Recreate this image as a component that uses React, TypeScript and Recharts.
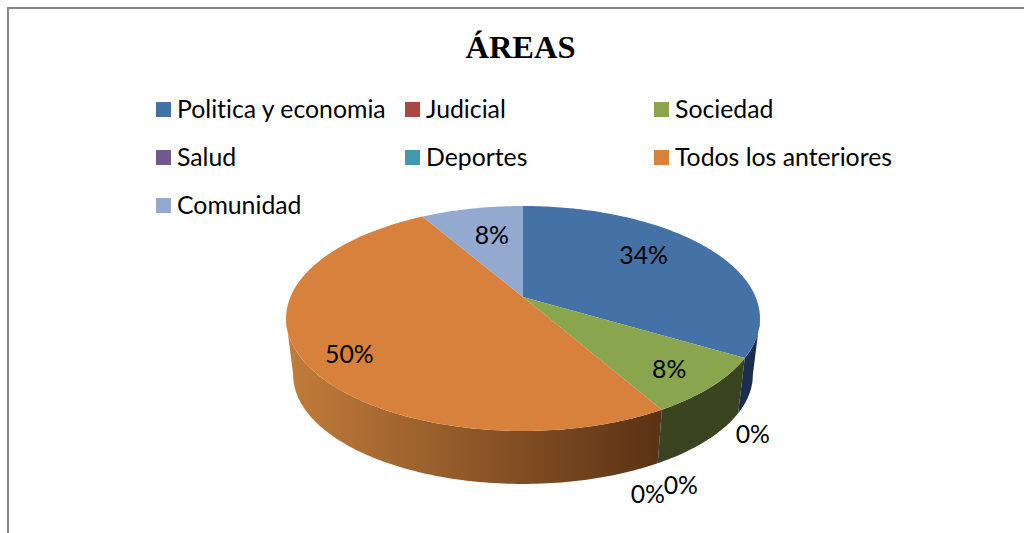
import { PieChart, Pie, Legend } from 'recharts';

const categories = ['Politica y economia', 'Judicial', 'Sociedad', 'Salud', 'Deportes', 'Todos los anteriores', 'Comunidad'];
// estimated from the slice edges, the labels show them rounded
const shares = [33.5, 0, 8.2, 0, 0, 49.9, 8.4];
const topColors = ['#4471a6', '#aa4643', '#89a54e', '#71588f', '#4198af', '#d8813c', '#93a9cf'];
const wallColors = ['#1b2e4f', '#5a2422', '#3b4420', '#3a2c4a', '#20505c', 'url(#orangeWall)', '#4c5a70'];

// label nudges from the rim point of each slice
const labelOffsets = [[-64, 7], [8, 75], [-43, -18], [19, 75], [-14, 84], [49, -4], [20, 26]];

const chartData = categories.map((name, i) => ({ name, value: shares[i], fill: topColors[i] }));

const FONT = 'Lato, sans-serif';
const SQUASH = 0.466; // tilt of the pie plane
const PERSP = 0.191; // near edge looks bigger than far edge
const DEPTH_SCALE = 0.97;
const DEPTH_DY = 57;

// angle is the recharts one (degrees, counter clockwise from 3 o'clock)
function project(cx: number, cy: number, r: number, angle: number, bottom = false) {
  const rad = (angle * Math.PI) / 180;
  const u = Math.cos(rad);
  const v = -Math.sin(rad);
  const w = 1 - PERSP * v;
  const s = bottom ? DEPTH_SCALE : 1;
  return {
    x: cx + (r * s * u) / w,
    y: cy + (bottom ? DEPTH_DY : 0) + (r * SQUASH * s * v) / w,
  };
}

function sample(startAngle: number, endAngle: number) {
  const steps = Math.max(2, Math.ceil(Math.abs(endAngle - startAngle)));
  const out: number[] = [];
  for (let i = 0; i <= steps; i++) out.push(startAngle + ((endAngle - startAngle) * i) / steps);
  return out;
}

const toPath = (pts: { x: number; y: number }[]) =>
  'M' + pts.map(p => `${p.x.toFixed(2)},${p.y.toFixed(2)}`).join('L') + 'Z';

// only the part of the rim turned to the viewer has a visible wall
const frontLimit = (Math.asin(PERSP) * 180) / Math.PI;

function Slice3D(props: any) {
  const { cx, cy, outerRadius, startAngle, endAngle, fill, index } = props;
  if (Math.abs(endAngle - startAngle) < 0.01) return <g />;
  const angles = sample(startAngle, endAngle);
  const top = angles.map(a => project(cx, cy, outerRadius, a));
  const face = [{ x: cx, y: cy }, ...top];

  // front of the pie runs from -frontLimit down to -180 + frontLimit
  const wallStart = Math.min(startAngle, -frontLimit);
  const wallEnd = Math.max(endAngle, -180 + frontLimit);
  let wall = null;
  if (wallStart > wallEnd) {
    const a = sample(wallStart, wallEnd);
    const pts = [
      ...a.map(x => project(cx, cy, outerRadius, x)),
      ...a.slice().reverse().map(x => project(cx, cy, outerRadius, x, true)),
    ];
    wall = <path d={toPath(pts)} fill={wallColors[index]} stroke="none" />;
  }
  return (
    <g>
      {wall}
      <path d={toPath(face)} fill={fill} stroke="none" />
    </g>
  );
}

function SliceLabel(props: any) {
  const { cx, cy, outerRadius, midAngle, index, value } = props;
  const p = project(cx, cy, outerRadius, midAngle);
  const [dx, dy] = labelOffsets[index];
  return (
    <text
      x={p.x + dx}
      y={p.y + dy}
      textAnchor="middle"
      dominantBaseline="central"
      fontFamily={FONT}
      fontSize={24.8}
      fill="#000"
    >
      {`${Math.round(value)}%`}
    </text>
  );
}

function LegendGrid({ payload }: any) {
  return (
    <div style={{ display: 'grid', gridTemplateColumns: 'repeat(3, 249px)', gridAutoRows: 48 }}>
      {(payload || []).map((item: any) => (
        <div key={item.value} style={{ display: 'flex', alignItems: 'center', height: 48 }}>
          <span style={{ width: 15, height: 15, background: item.color, marginRight: 6, flex: 'none' }} />
          <span
            style={{
              fontFamily: FONT,
              fontSize: 24.8,
              fontVariantLigatures: 'none',
              color: '#000',
              whiteSpace: 'nowrap',
              position: 'relative',
              top: -1,
            }}
          >
            {item.value}
          </span>
        </div>
      ))}
    </div>
  );
}

export default function App() {
  return (
    <div style={{ position: 'absolute', left: 0, top: 0, width: 1024, height: 533, background: '#fff', overflow: 'hidden' }}>
      <div style={{ position: 'absolute', left: 7, top: 7, right: 0, bottom: 0, borderTop: '2px solid #868686', borderLeft: '2px solid #868686' }} />
      <PieChart
        width={1024}
        height={533}
        margin={{ top: 0, right: 0, bottom: 0, left: 0 }}
        style={{ position: 'absolute', left: 0, top: 0 }}
      >
        <defs>
          <linearGradient id="orangeWall" gradientUnits="userSpaceOnUse" x1="286" y1="0" x2="661" y2="0">
            <stop offset="0%" stopColor="#c27c3a" />
            <stop offset="100%" stopColor="#5a3216" />
          </linearGradient>
        </defs>
        <text x={520.5} y={58} textAnchor="middle" fontFamily="'Liberation Serif', serif" fontWeight="bold" fontSize={32.5} fill="#000">
          ÁREAS
        </text>
        <Legend
          content={<LegendGrid />}
          itemSorter={null}
          wrapperStyle={{ position: 'absolute', left: 156, top: 85, width: 760, bottom: 'auto' }}
        />
        <Pie
          data={chartData}
          dataKey="value"
          nameKey="name"
          cx={523}
          cy={297}
          innerRadius={0}
          outerRadius={232.6}
          startAngle={90}
          endAngle={-270}
          stroke="none"
          shape={Slice3D}
          label={SliceLabel}
          labelLine={false}
          isAnimationActive={false}
        />
      </PieChart>
    </div>
  );
}
